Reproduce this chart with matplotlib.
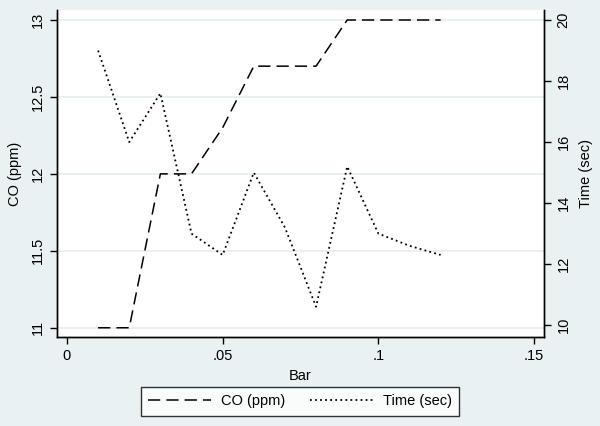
import matplotlib
matplotlib.use("Agg")
import matplotlib.pyplot as plt

plt.rcParams['font.family'] = ['Liberation Sans', 'DejaVu Sans']

bar = [0.01, 0.02, 0.03, 0.04, 0.05, 0.06, 0.07, 0.08, 0.09, 0.10, 0.11, 0.12]
co_ppm = [11, 11, 12, 12, 12.3, 12.7, 12.7, 12.7, 13, 13, 13, 13]
time_sec = [19, 16, 17.6, 13, 12.3, 15, 13.2, 10.6, 15.2, 13, 12.6, 12.3]

x_ticks = [0, 0.05, 0.10, 0.15]
x_tick_labels = ["0", ".05", ".1", ".15"]
left_ticks = [11, 11.5, 12, 12.5, 13]
left_tick_labels = ["11", "11.5", "12", "12.5", "13"]
right_ticks = [10, 12, 14, 16, 18, 20]

bg = "#EAF1F3"
fig = plt.figure(figsize=(6, 4.26), dpi=100, facecolor=bg)
ax = fig.add_axes([57/600, 1-337/426, (544-57)/600, (337-10)/426])
ax.set_facecolor("white")
ax2 = ax.twinx()

l1, = ax.plot(bar, co_ppm, color="black", lw=1.1, linestyle=(0, (8, 4)), label="CO (ppm)")
l2, = ax2.plot(bar, time_sec, color="black", lw=1.3, linestyle=(0, (1.0, 1.8)), label="Time (sec)")

ax.set_xlim(-0.0032, 0.1532)
ax.set_ylim(10.94, 13.065)
ax2.set_ylim(9.61, 20.33)

ax.set_xticks(x_ticks)
ax.set_xticklabels(x_tick_labels)
ax.set_yticks(left_ticks)
ax.set_yticklabels(left_tick_labels, rotation=90, va="center")
ax2.set_yticks(right_ticks)
ax2.set_yticklabels([str(t) for t in right_ticks], rotation=90, va="center")

ax.yaxis.grid(True, color="#E6EEF0", lw=1.2)
ax.set_axisbelow(True)

for a in (ax, ax2):
    a.spines['top'].set_visible(False)
    for s in ('left', 'right', 'bottom'):
        a.spines[s].set_linewidth(1.0)
    a.tick_params(direction='out', length=5, width=1, labelsize=10.5, pad=4)

ax.set_xlabel("Bar", fontsize=10.5, labelpad=4)
ax.set_ylabel("CO (ppm)", fontsize=10.5, labelpad=6)
ax2.set_ylabel("Time (sec)", fontsize=10.5, labelpad=6, rotation=90)

leg = fig.legend(handles=[l1, l2], loc="center", bbox_to_anchor=(0.5, 1-401.5/426),
                 ncol=2, frameon=True, fancybox=False, edgecolor="black",
                 fontsize=10.5, handlelength=4.3, handletextpad=0.7,
                 columnspacing=1.7, borderpad=0.5)
leg.get_frame().set_linewidth(1.0)
leg.get_frame().set_facecolor("white")

fig.savefig("out.png", dpi=100, facecolor=bg)
